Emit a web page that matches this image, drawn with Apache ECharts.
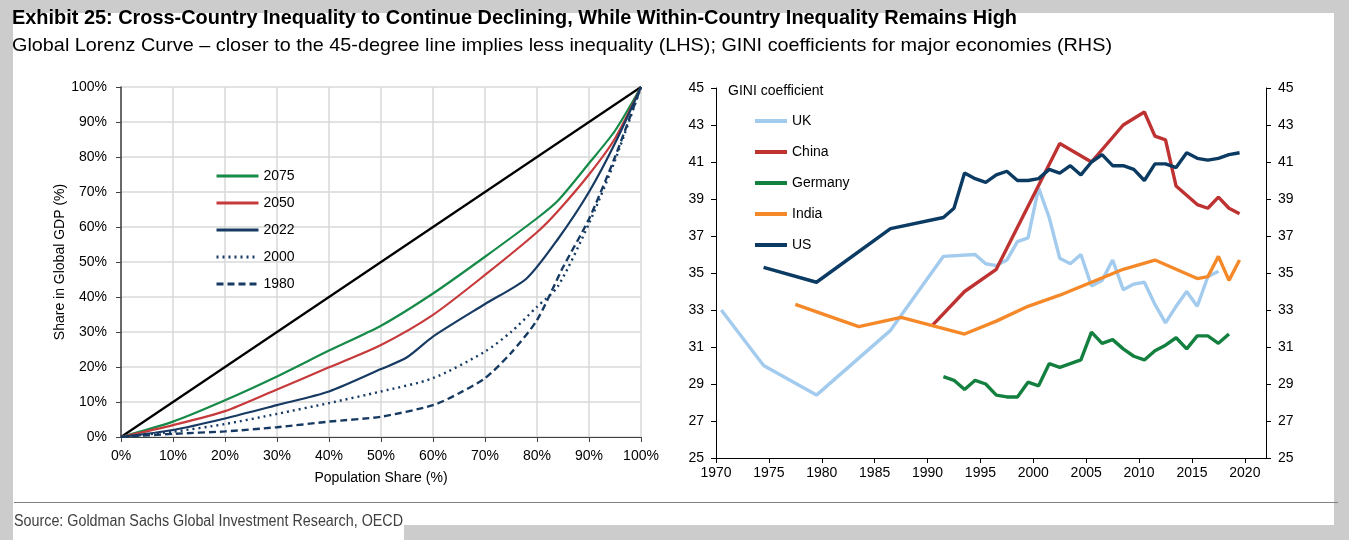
<!DOCTYPE html>
<html><head><meta charset="utf-8">
<script src="https://cdn.jsdelivr.net/npm/echarts@6/dist/echarts.min.js"></script>
<style>
html,body{margin:0;padding:0;background:#cccccc;overflow:hidden;}
#panel{position:absolute;left:13px;top:13px;width:1321px;height:512px;background:#fff;}
#panel2{position:absolute;left:13px;top:525px;width:391px;height:15px;background:#fff;}
#c{position:absolute;left:0;top:0;width:1349px;height:540px;}
</style>
</head><body>
<div id="panel"></div><div id="panel2"></div>
<div id="c"></div>
<script>
// ---- Left chart: Global Lorenz curve ----
const lorenz2075X = [0,10,20,30,40,50,60,70,80,84,90,95,100];
const lorenz2075Y = [0,4.4,10.5,17.3,24.7,31.8,41.0,51.5,62.5,67.5,78.2,87.5,100];
const lorenz2050X = [0,10,20,30,40,50,60,70,80,84,90,95,100];
const lorenz2050Y = [0,3.4,7.4,13.6,19.9,26.3,34.9,46.3,58.5,64.5,75.0,85.3,100];
const lorenz2022X = [0,10,20,30,40,50,55,60,70,78,84,90,95,100];
const lorenz2022Y = [0,2.0,5.3,9.1,13.0,19.4,22.8,28.7,38.0,45.3,56.5,70.0,83.9,100];
const lorenz2000X = [0,10,20,30,40,50,60,70,75,80,84,90,95,100];
const lorenz2000Y = [0,1.5,3.7,6.6,9.7,13.0,16.8,24.4,30.0,37.2,43.0,61.0,79.0,100];
const lorenz1980X = [0,10,20,30,40,50,60,65,70,75,80,85,90,95,100];
const lorenz1980Y = [0,0.9,1.6,2.8,4.4,5.8,9.1,12.5,16.8,24.0,33.4,48.5,62.3,80.0,100];
const equalityX = [0,100];
const equalityY = [0,100];

// ---- Right chart: GINI coefficients ----
const ukYears = [1970,1974,1979,1986,1991,1994,1995,1996,1997,1998,1999,2000,2001,2002,2003,2004,2005,2006,2007,2008,2009,2010,2011,2012,2013,2014,2015,2016,2017];
const ukGini  = [33.0,30.0,28.4,31.9,35.9,36.0,35.5,35.4,35.7,36.7,36.9,39.6,38.0,35.8,35.5,36.0,34.3,34.6,35.7,34.1,34.4,34.5,33.3,32.3,33.2,34.0,33.2,34.8,35.1];
const chinaYears = [1990,1993,1996,2002,2005,2008,2010,2011,2012,2013,2014,2015,2016,2017,2018,2019];
const chinaGini  = [32.2,34.0,35.2,42.0,41.0,43.0,43.7,42.4,42.2,39.7,39.2,38.7,38.5,39.1,38.5,38.2];
const germanyYears = [1991,1992,1993,1994,1995,1996,1997,1998,1999,2000,2001,2002,2003,2004,2005,2006,2007,2008,2009,2010,2011,2012,2013,2014,2015,2016,2017,2018];
const germanyGini  = [29.4,29.2,28.7,29.2,29.0,28.4,28.3,28.3,29.1,28.9,30.1,29.9,30.1,30.3,31.8,31.2,31.4,30.9,30.5,30.3,30.8,31.1,31.5,30.9,31.6,31.6,31.2,31.7];
const indiaYears = [1977,1983,1987,1993,1996,1999,2002,2005,2008,2011,2015,2016,2017,2018,2019];
const indiaGini  = [33.3,32.1,32.6,31.7,32.4,33.2,33.8,34.5,35.2,35.7,34.7,34.8,35.9,34.6,35.7];
const usYears = [1974,1979,1986,1991,1992,1993,1994,1995,1996,1997,1998,1999,2000,2001,2002,2003,2004,2005,2006,2007,2008,2009,2010,2011,2012,2013,2014,2015,2016,2017,2018,2019];
const usGini  = [35.3,34.5,37.4,38.0,38.5,40.4,40.1,39.9,40.3,40.5,40.0,40.0,40.1,40.6,40.4,40.8,40.3,41.0,41.4,40.8,40.8,40.6,40.0,40.9,40.9,40.7,41.5,41.2,41.1,41.2,41.4,41.5];

const zip = (xs, ys) => xs.map((x, i) => [x, ys[i]]);
// annual observations plotted at mid-year
const zipYear = (xs, ys) => xs.map((x, i) => [x + 0.5, ys[i]]);

const SANS = 'Liberation Sans, Arial, sans-serif';
const C = {green:'#168a48', red:'#c73a3b', navy:'#173a63', uk:'#a3cbee', china:'#be3232', germany:'#13803f', india:'#f5892a', us:'#0b3a62'};

// condensed-looking text: horizontally scale to the reference width
const mctx = document.createElement('canvas').getContext('2d');
function fit(text, font, target){ mctx.font = font; return target / mctx.measureText(text).width; }
const TITLE = 'Exhibit 25: Cross-Country Inequality to Continue Declining, While Within-Country Inequality Remains High';
const SUB = 'Global Lorenz Curve \u2013 closer to the 45-degree line implies less inequality (LHS); GINI coefficients for major economies (RHS)';
const SRC = 'Source: Goldman Sachs Global Investment Research, OECD';
const sT = fit(TITLE, 'bold 21px Liberation Sans', 1005);
const sS = fit(SUB, '19px Liberation Sans', 1100);
const sR = fit(SRC, '16px Liberation Sans', 389);

const chart = echarts.init(document.getElementById('c'), null, {renderer:'canvas'});
const axisLbl = {color:'#000', fontSize:14, fontFamily:SANS};

chart.setOption({
  backgroundColor:'transparent',
  animation:false,
  textStyle:{fontFamily:SANS},
  graphic:[
    {type:'text', x:12, y:18, scaleX:sT, style:{text:TITLE, fontFamily:'Liberation Sans', fontWeight:'bold', fontSize:21, fill:'#000', verticalAlign:'middle'}},
    {type:'text', x:12, y:46, scaleX:sS, style:{text:SUB, fontFamily:'Liberation Sans', fontSize:19, fill:'#000', verticalAlign:'middle'}},
    {type:'line', shape:{x1:14, y1:502.5, x2:1338, y2:502.5}, style:{stroke:'#808080', lineWidth:1}},
    {type:'text', x:14, y:522, scaleX:sR, style:{text:SRC, fontFamily:'Liberation Sans', fontSize:16, fill:'#404040', verticalAlign:'middle'}},
    {type:'text', x:728, y:91, style:{text:'GINI coefficient', fontFamily:SANS, fontSize:14, fill:'#000', verticalAlign:'middle'}}
  ],
  legend:[
    {left:210, top:164, orient:'vertical', itemWidth:42, itemHeight:14, itemGap:13, itemStyle:{opacity:0},
     lineStyle:{width:3}, textStyle:{fontSize:14, color:'#000', fontFamily:SANS}, data:['2075','2050','2022','2000','1980'], selectedMode:false},
    {left:748, top:109, orient:'vertical', itemWidth:32, itemHeight:14, itemGap:17, itemStyle:{opacity:0},
     lineStyle:{width:4}, textStyle:{fontSize:14, color:'#000', fontFamily:SANS}, data:['UK','China','Germany','India','US'], selectedMode:false}
  ],
  grid:[
    {left:121, top:87, width:520, height:350},
    {left:716, top:88, width:550, height:370}
  ],
  xAxis:[
    {gridIndex:0, type:'value', min:0, max:100, interval:10,
     axisLine:{lineStyle:{color:'#404040', width:1}}, axisTick:{length:5, lineStyle:{color:'#404040'}},
     axisLabel:Object.assign({formatter:'{value}%', margin:12}, axisLbl),
     splitLine:{show:true, lineStyle:{color:'#d9d9d9', width:1.5}},
     name:'Population Share (%)', nameLocation:'middle', nameGap:34, nameTextStyle:{fontSize:14, color:'#000', fontFamily:SANS}},
    {gridIndex:1, type:'value', min:1970, max:2022, interval:5,
     axisLine:{onZero:false, lineStyle:{color:'#000', width:1}}, axisTick:{length:5, lineStyle:{color:'#000'}},
     axisLabel:Object.assign({margin:8, showMaxLabel:false, formatter:v => (v % 5 === 0 ? String(v) : '')}, axisLbl),
     splitLine:{show:false}}
  ],
  yAxis:[
    {gridIndex:0, type:'value', min:0, max:100, interval:10,
     axisLine:{show:true, lineStyle:{color:'#404040', width:1.5}}, axisTick:{show:true, length:5, lineStyle:{color:'#404040'}},
     axisLabel:Object.assign({formatter:'{value}%', margin:14}, axisLbl),
     splitLine:{show:true, lineStyle:{color:'#d9d9d9', width:1.5}},
     name:'Share in Global GDP (%)', nameLocation:'middle', nameGap:49, nameRotate:90, nameTextStyle:{fontSize:14, color:'#000', fontFamily:SANS}},
    {gridIndex:1, type:'value', min:25, max:45, interval:2, position:'left',
     axisLine:{show:true, lineStyle:{color:'#000', width:1}}, axisTick:{show:true, length:5, lineStyle:{color:'#000'}},
     axisLabel:Object.assign({margin:12}, axisLbl), splitLine:{show:false}},
    {gridIndex:1, type:'value', min:25, max:45, interval:2, position:'right',
     axisLine:{show:true, lineStyle:{color:'#000', width:1}}, axisTick:{show:true, length:5, lineStyle:{color:'#000'}},
     axisLabel:Object.assign({margin:12}, axisLbl), splitLine:{show:false}}
  ],
  series:[
    {name:'45-degree', type:'line', xAxisIndex:0, yAxisIndex:0, data:zip(equalityX, equalityY), symbol:'none', lineStyle:{color:'#000', width:2.2}, z:3},
    {name:'2075', type:'line', xAxisIndex:0, yAxisIndex:0, data:zip(lorenz2075X, lorenz2075Y), symbol:'none', smooth:0.25, color:C.green, lineStyle:{color:C.green, width:2.2}},
    {name:'2050', type:'line', xAxisIndex:0, yAxisIndex:0, data:zip(lorenz2050X, lorenz2050Y), symbol:'none', smooth:0.25, color:C.red, lineStyle:{color:C.red, width:2.2}},
    {name:'2022', type:'line', xAxisIndex:0, yAxisIndex:0, data:zip(lorenz2022X, lorenz2022Y), symbol:'none', smooth:0.25, color:C.navy, lineStyle:{color:C.navy, width:2.2}},
    {name:'2000', type:'line', xAxisIndex:0, yAxisIndex:0, data:zip(lorenz2000X, lorenz2000Y), symbol:'none', smooth:0.25, color:C.navy, lineStyle:{color:C.navy, width:2.4, type:[2,4]}},
    {name:'1980', type:'line', xAxisIndex:0, yAxisIndex:0, data:zip(lorenz1980X, lorenz1980Y), symbol:'none', smooth:0.25, color:C.navy, lineStyle:{color:C.navy, width:2.4, type:[7,4]}},
    {name:'UK', type:'line', xAxisIndex:1, yAxisIndex:1, data:zipYear(ukYears, ukGini), symbol:'none', color:C.uk, lineStyle:{color:C.uk, width:3.4}},
    {name:'China', type:'line', xAxisIndex:1, yAxisIndex:1, data:zipYear(chinaYears, chinaGini), symbol:'none', color:C.china, lineStyle:{color:C.china, width:3.4}},
    {name:'Germany', type:'line', xAxisIndex:1, yAxisIndex:1, data:zipYear(germanyYears, germanyGini), symbol:'none', color:C.germany, lineStyle:{color:C.germany, width:3.4}},
    {name:'India', type:'line', xAxisIndex:1, yAxisIndex:1, data:zipYear(indiaYears, indiaGini), symbol:'none', color:C.india, lineStyle:{color:C.india, width:3.4}},
    {name:'US', type:'line', xAxisIndex:1, yAxisIndex:1, data:zipYear(usYears, usGini), symbol:'none', color:C.us, lineStyle:{color:C.us, width:3.4}, z:4}
  ]
});
</script>
</body></html>
